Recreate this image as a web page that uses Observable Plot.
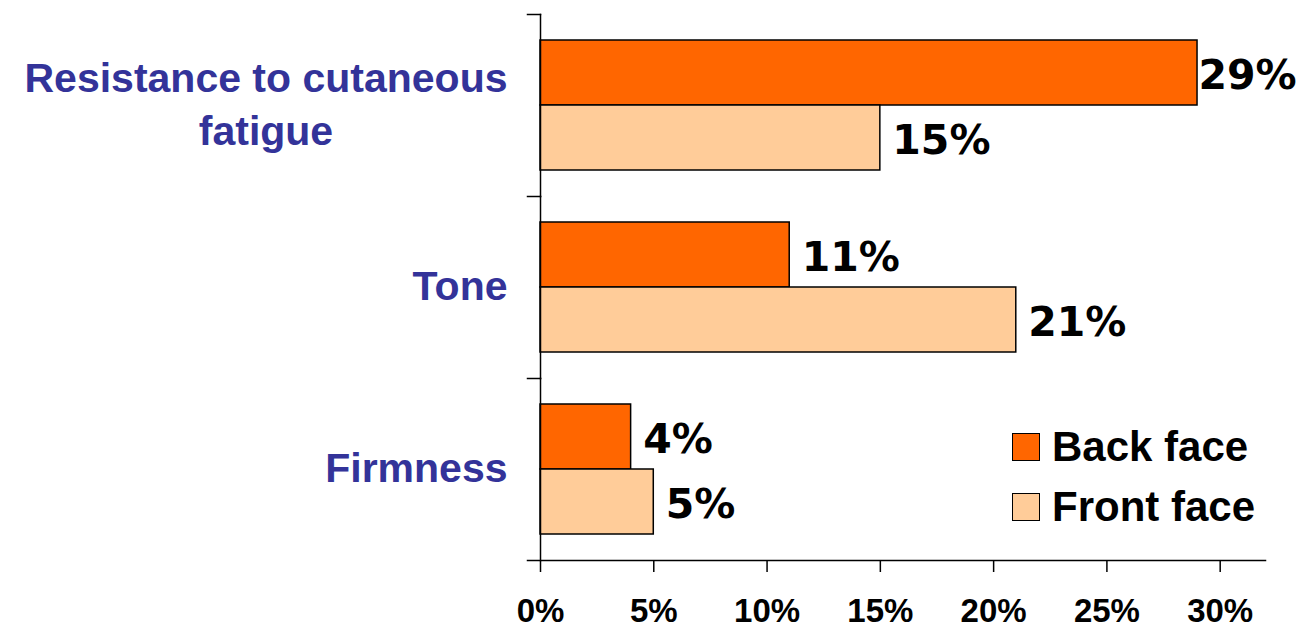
<!DOCTYPE html>
<html><head><meta charset="utf-8">
<script src="https://cdn.jsdelivr.net/npm/d3@7"></script>
<script src="https://cdn.jsdelivr.net/npm/@observablehq/plot@0.6"></script>
<style>
html,body{margin:0;padding:0;background:#fff;}
#wrap{position:relative;width:1315px;height:628px;overflow:hidden;}
#legend{position:absolute;left:1012px;top:417px;font:bold 42px 'Liberation Sans',Arial,sans-serif;color:#000;}
.item{display:flex;align-items:center;height:60px;white-space:nowrap;}
.sw{width:28px;height:28px;border:1.5px solid #000;margin-right:12px;box-sizing:border-box;}
</style></head><body><div id="wrap"></div>
<script>
const categories = ["Resistance to cutaneous\nfatigue", "Tone", "Firmness"];
const series = ["Back face", "Front face"];
const backFace = [0.29, 0.11, 0.04];
const frontFace = [0.15, 0.21, 0.05];
const colors = ["#FF6600", "#FFCC99"];
const xTicks = [0, 0.05, 0.10, 0.15, 0.20, 0.25, 0.30];

const data = categories.flatMap((c, i) => [
  {category: c, series: series[0], value: backFace[i]},
  {category: c, series: series[1], value: frontFace[i]}
]);

const labelSize = 41;
const cv = document.createElement("canvas").getContext("2d");
cv.font = `bold ${labelSize}px 'Liberation Sans'`;
const maxLineWidth = c => Math.max(...c.split("\n").map(s => cv.measureText(s).width));

const fmt = d3.format(".0%");
const W = 1315, H = 628, ML = 540, MR = 50;

const chart = Plot.plot({
  width: W, height: H,
  marginLeft: ML, marginRight: MR, marginTop: 13, marginBottom: 68,
  style: {fontFamily: "'Liberation Sans', Arial, sans-serif", background: "#fff", overflow: "visible"},
  fy: {domain: categories, padding: 0, axis: null, label: null},
  y: {domain: series, paddingInner: 0, paddingOuter: 0.4, axis: null, label: null},
  x: {domain: [0, 0.32], axis: null, label: null},
  color: {domain: series, range: colors},
  marks: [
    Plot.barX(data, {x: "value", y: "series", fy: "category", fill: "series", stroke: "#000", strokeWidth: 1.5}),
    Plot.text(data.filter(d => d.value < 0.25), {x: "value", y: "series", fy: "category", text: d => fmt(d.value),
      textAnchor: "start", dx: 12, dy: 3, fontFamily: "'DejaVu Sans', Verdana, sans-serif", fontWeight: "bold", fontSize: 41, fill: "#000"}),
    Plot.text(data.filter(d => d.value >= 0.25), {x: "value", y: "series", fy: "category", text: d => fmt(d.value),
      textAnchor: "start", dx: 1, dy: 3, fontFamily: "'DejaVu Sans', Verdana, sans-serif", fontWeight: "bold", fontSize: 41, fill: "#000"}),
    ...categories.map(c => Plot.text([c], {fy: d => d, text: d => d, frameAnchor: "left", textAnchor: "middle", lineAnchor: "middle",
      lineHeight: 1.28, dx: -33 - maxLineWidth(c) / 2, dy: -4, fontSize: labelSize, fontWeight: "bold", fill: "#333399"})),
    Plot.frame({anchor: "left", stroke: "#000", strokeWidth: 1.5}),
    Plot.frame({anchor: "top", insetLeft: -13, insetRight: W - ML - MR, stroke: "#000", strokeWidth: 1.5}),
    Plot.frame({anchor: "bottom", insetLeft: -13, facetAnchor: "bottom", stroke: "#000", strokeWidth: 1.5}),
    Plot.axisX({ticks: xTicks, tickFormat: fmt, tickSize: 12, tickPadding: 26, fontSize: 33, fontWeight: "bold", label: null,
      stroke: "#000", strokeWidth: 1.5, fill: "#000", color: "#000", strokeOpacity: 1})
  ]
});

const wrap = document.getElementById("wrap");
wrap.appendChild(chart);
const legend = document.createElement("div");
legend.id = "legend";
series.forEach((s, i) => {
  const row = document.createElement("div");
  row.className = "item";
  const sw = document.createElement("span");
  sw.className = "sw";
  sw.style.background = colors[i];
  row.appendChild(sw);
  row.appendChild(document.createTextNode(s));
  legend.appendChild(row);
});
wrap.appendChild(legend);
</script></body></html>
